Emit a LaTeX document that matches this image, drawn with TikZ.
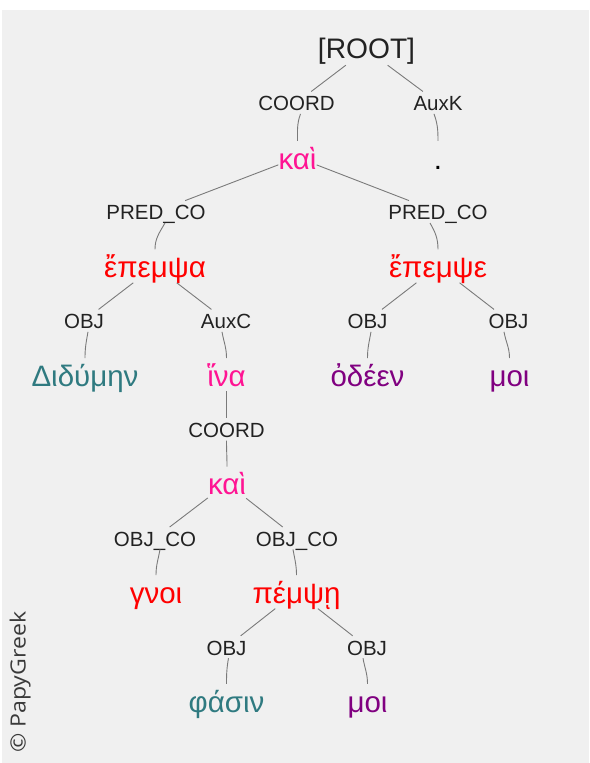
\documentclass[tikz,border=0pt]{standalone}
\usepackage{fontspec}
\setmainfont{Liberation Sans}
\newfontfamily\osans{Open Sans}
\definecolor{bgc}{HTML}{F0F0F0}
\definecolor{labc}{HTML}{222222}
\definecolor{edgec}{HTML}{7A7A7A}
\definecolor{pinkc}{HTML}{FF1493}
\definecolor{redc}{HTML}{FF0000}
\definecolor{tealc}{HTML}{2F7A80}
\definecolor{purpc}{HTML}{800080}
\definecolor{cpc}{HTML}{3A3A3A}
\newcommand\depedge[5]{%
  \draw[edge] (#1) -- (#2);
  \draw[edge] ([xshift=#4]#2.south) to[out=#5,in=90] (#3.north);}
\begin{document}
\begin{tikzpicture}[x=1pt,y=1pt,
  lab/.style={anchor=base, inner sep=0pt, text height=19pt, text depth=3pt,
    font=\fontsize{20.5}{20.5}\selectfont, text=labc},
  word/.style={anchor=base, inner sep=0pt, text height=28pt, text depth=5pt,
    font=\fontsize{29.5}{29.5}\selectfont},
  rootnode/.style={anchor=base, inner sep=0pt, text height=24pt, text depth=7pt,
    font=\fontsize{28.2}{28.2}\selectfont, text=labc},
  edge/.style={draw=edgec, line width=0.9pt}]
\useasboundingbox (0,0) rectangle (589,-763);
\fill[white] (0,0) rectangle (589,-763);
\fill[bgc] (2,-10) rectangle (589,-763);

% root
\node[rootnode] (root) at (366.5,-58) {[ROOT]};
% row 2
\node[lab] (c1) at (296.5,-110.7) {COORD};
\node[lab] (ak) at (438,-110.7) {AuxK};
% row 3
\node[word,text=pinkc] (kai1) at (297.5,-169) {καὶ};
\node[word,text=black] (dot) at (438,-169) {.};
% row 4
\node[lab] (pl) at (156,-219.8) {PRED\_CO};
\node[lab] (pr) at (438,-219.8) {PRED\_CO};
% row 5
\node[word,text=redc] (epa) at (155,-277.6) {ἔπεμψα};
\node[word,text=redc] (epe) at (438,-277.6) {ἔπεμψε};
% row 6
\node[lab] (o1) at (84,-328.6) {OBJ};
\node[lab] (ax) at (226,-328.6) {AuxC};
\node[lab] (o2) at (367.5,-328.6) {OBJ};
\node[lab] (o3) at (508.5,-328.6) {OBJ};
% row 7
\node[word,text=tealc] (did) at (85,-386.2) {Διδύμην};
\node[word,text=pinkc] (hina) at (226.5,-386.2) {ἵνα};
\node[word,text=purpc] (ode) at (367.5,-386.2) {ὀδέεν};
\node[word,text=purpc] (moi1) at (509.5,-386.2) {μοι};
% row 8
\node[lab] (c2) at (226.5,-437.4) {COORD};
% row 9
\node[word,text=pinkc] (kai2) at (227,-494.8) {καὶ};
% row 10
\node[lab] (oc1) at (155,-546.2) {OBJ\_CO};
\node[lab] (oc2) at (297,-546.2) {OBJ\_CO};
% row 11
\node[word,text=redc] (gnoi) at (156,-603.4) {γνοι};
\node[word,text=redc] (pem) at (296.5,-603.4) {πέμψῃ};
% row 12
\node[lab] (ob1) at (226.5,-655) {OBJ};
\node[lab] (ob2) at (367,-655) {OBJ};
% row 13
\node[word,text=tealc] (pha) at (226.5,-712) {φάσιν};
\node[word,text=purpc] (moi2) at (367.5,-712) {μοι};

% edges
\depedge{root}{c1}{kai1}{4}{-110}
\depedge{root}{ak}{dot}{-4}{-70}
\depedge{kai1}{pl}{epa}{9}{-120}
\depedge{kai1}{pr}{epe}{-8}{-60}
\depedge{epa}{o1}{did}{4}{-100}
\depedge{epa}{ax}{hina}{-4}{-80}
\depedge{epe}{o2}{ode}{3.5}{-100}
\depedge{epe}{o3}{moi1}{-4.5}{-80}
\depedge{hina}{c2}{kai2}{0}{-90}
\depedge{kai2}{oc1}{gnoi}{5}{-100}
\depedge{kai2}{oc2}{pem}{-4}{-80}
\depedge{pem}{ob1}{pha}{2}{-100}
\depedge{pem}{ob2}{moi2}{-4}{-80}

% copyright
\node[rotate=90, anchor=base west, inner sep=0pt,
  font=\osans\fontsize{21}{21}\selectfont, text=cpc] (cp) at (25.5,-753)
  {\scalebox{1.1}[1]{© PapyGreek}};
\end{tikzpicture}
\end{document}
